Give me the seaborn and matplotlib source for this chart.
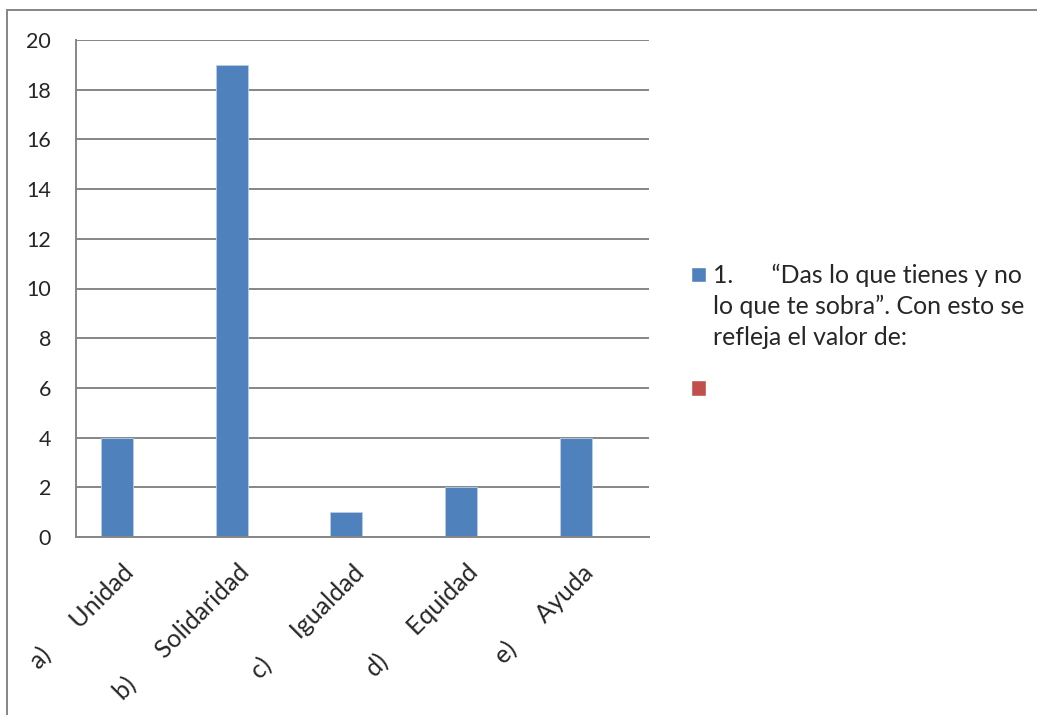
"""
Bar chart: value reflected by the phrase "Das lo que tienes y no lo que te sobra".
Excel-like look recreated with seaborn / matplotlib.
"""

import matplotlib
matplotlib.use("Agg")
import matplotlib.pyplot as plt
import matplotlib.transforms as mtransforms
from matplotlib.patches import Patch, Rectangle
import numpy as np
import pandas as pd
import seaborn as sns

# ============================================================
# DATA
# ============================================================

CATEGORIES = ["a)      Unidad", "b)      Solidaridad", "c)      Igualdad",
              "d)      Equidad", "e)      Ayuda"]
SERIES_1 = [4, 19, 1, 2, 4]
SERIES_2 = [np.nan, np.nan, np.nan, np.nan, np.nan]
SERIES_NAMES = ["1.      \u201cDas lo que tienes y no", "serie2"]
LEGEND_LINES = ["lo que te sobra\u201d. Con esto se", "refleja el valor de:"]
Y_TICKS = list(range(0, 21, 2))

BLUE = "#4F81BD"
RED = "#C0504D"
GRID = "#868686"
W, H = 1037, 715

# ============================================================
# FIGURE
# ============================================================

sns.set_style("white")
plt.rcParams["font.family"] = ["Lato", "DejaVu Sans"]

df = pd.DataFrame({
    "cat": CATEGORIES * 2,
    "serie": [SERIES_NAMES[0]] * len(CATEGORIES) + [SERIES_NAMES[1]] * len(CATEGORIES),
    "valor": SERIES_1 + SERIES_2,
})

fig = plt.figure(figsize=(W / 100, H / 100), dpi=100)
ax = fig.add_axes([76 / W, 1 - 537 / H, (649 - 76) / W, (537 - 40) / H])

sns.barplot(data=df, x="cat", y="valor", hue="serie", hue_order=SERIES_NAMES,
            order=CATEGORIES, palette=[BLUE, RED], width=0.56, dodge=True,
            errorbar=None, legend=False, ax=ax, saturation=1,
            edgecolor="#B9CDE5", linewidth=0.6)

ax.set_xlim(-0.5, len(CATEGORIES) - 0.5)
ax.set_ylim(0, 20)
ax.set_yticks(Y_TICKS)
ax.set_yticklabels([str(t) for t in Y_TICKS], fontsize=15.5)
ax.yaxis.grid(True, color=GRID, linewidth=1.4)
ax.set_axisbelow(True)
ax.tick_params(axis="y", length=6, width=1.4, color=GRID, pad=12)

# category labels at centres, tick marks at boundaries
ax.set_xticks(np.arange(len(CATEGORIES)))
ax.set_xticklabels(CATEGORIES, fontsize=18, rotation=45, ha="right",
                   va="top", rotation_mode="anchor")
ax.set_xticks(np.arange(len(CATEGORIES) + 1) - 0.5, minor=True)
ax.tick_params(axis="x", which="major", length=0, pad=14)
ax.tick_params(axis="x", which="minor", length=6, width=1.4, color=GRID)
shift = mtransforms.ScaledTranslation(-11 / 100, -4 / 100, fig.dpi_scale_trans)
for lab in ax.get_xticklabels():
    lab.set_transform(lab.get_transform() + shift)

ax.set_xlabel("")
ax.set_ylabel("")
for side in ["top", "right"]:
    ax.spines[side].set_visible(False)
for side in ["left", "bottom"]:
    ax.spines[side].set_color(GRID)
    ax.spines[side].set_linewidth(1.4)

# legend (Excel style: square aligned with the first text line)
blank = Patch(facecolor="none", edgecolor="none")
leg_kw = dict(loc="upper left", frameon=False, fontsize=17.9, handlelength=0.6,
              handleheight=0.6, handletextpad=0.3, borderaxespad=0, borderpad=0)
fig.legend([Patch(facecolor=BLUE), blank, blank], [SERIES_NAMES[0]] + LEGEND_LINES,
           bbox_to_anchor=(691 / W, 1 - 264 / H), labelspacing=0.3, **leg_kw)
fig.legend([Patch(facecolor=RED)], [" "],
           bbox_to_anchor=(691 / W, 1 - 378 / H), **leg_kw)

# outer chart border
fig.patches.append(Rectangle((7 / W, -0.05), 1.2, 1 - 10 / H + 0.05,
                             transform=fig.transFigure, fill=False,
                             edgecolor=GRID, linewidth=1.4))

fig.savefig("out.png", dpi=100)
